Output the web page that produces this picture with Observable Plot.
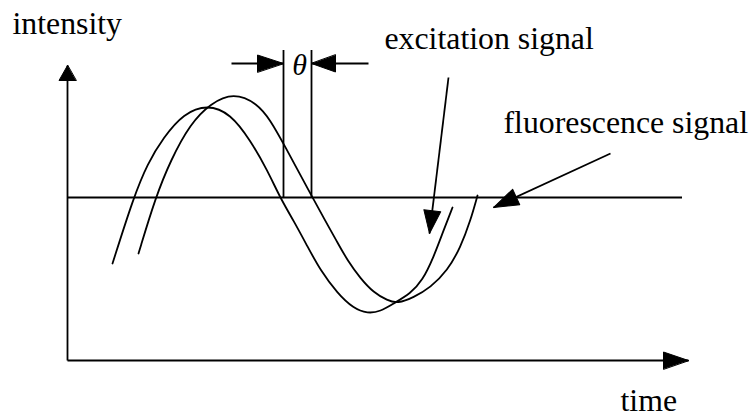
<!DOCTYPE html>
<html>
<head>
<meta charset="utf-8">
<script src="https://cdn.jsdelivr.net/npm/d3@7"></script>
<script src="https://cdn.jsdelivr.net/npm/@observablehq/plot@0.6"></script>
<style>
  html, body { margin: 0; padding: 0; background: #fff; }
  #chart svg { display: block; }
</style>
</head>
<body>
<div id="chart"></div>
<script>
// Excitation signal (leading wave): time, intensity
const excitationTime = [45, 66, 80, 96, 116, 140, 163, 183, 200, 213, 226, 240, 253, 270, 286, 300, 313, 326, 343, 355, 366, 376, 385];
const excitationIntensity = [97, 163, 197, 223, 247, 256, 247, 220, 190, 162, 140, 114, 90, 67, 52, 47, 49, 57, 67, 80, 103, 130, 153];

// Fluorescence signal (lagging wave)
const fluorescenceTime = [71, 88, 103, 123, 143, 166, 190, 203, 216, 245, 256, 270, 280, 293, 306, 320, 330, 346, 363, 380, 393, 403, 410];
const fluorescenceIntensity = [107, 163, 200, 237, 257, 268, 257, 240, 217, 163, 143, 118, 100, 82, 68, 60, 57, 63, 73, 90, 113, 140, 165];

// Reference (mean) level and phase-shift markers
const baselineLevel = 163;
const baselineEnd = 615;
const phaseMarkers = [216, 244];
const phaseMarkerTop = 310;

// Arrows: axes, phase-shift pointers, label pointers
const arrowName = ["intensity axis", "time axis", "theta left", "theta right", "excitation pointer", "fluorescence pointer"];
const arrowX1 = [0, 0, 164, 301, 381, 543];
const arrowY1 = [0, 0, 297, 297, 283, 207];
const arrowX2 = [0, 621, 216, 244, 362, 426];
const arrowY2 = [295, 0, 297, 297, 127, 153];
const arrowHeadLength = [15, 25, 26, 24, 23, 25];

// Text labels
const labelText = ["intensity", "time", "excitation signal", "fluorescence signal"];
const labelX = [-55, 553, 317, 436];
const labelY = [327, -50, 312, 228];
const thetaText = "θ";
const thetaX = 232;
const thetaY = 295;

const excitation = excitationTime.map((t, i) => ({t, v: excitationIntensity[i]}));
const fluorescence = fluorescenceTime.map((t, i) => ({t, v: fluorescenceIntensity[i]}));
const arrows = arrowName.map((name, i) => ({
  name, x1: arrowX1[i], y1: arrowY1[i], x2: arrowX2[i], y2: arrowY2[i],
  len: arrowHeadLength[i],
  angle: Math.atan2(arrowX2[i] - arrowX1[i], arrowY2[i] - arrowY1[i]) * 180 / Math.PI
}));
const labels = labelText.map((text, i) => ({text, x: labelX[i], y: labelY[i]}));

const triangle = {
  draw(context, l, r) {
    context.moveTo(0, -l);
    context.lineTo(-r, 0);
    context.lineTo(r, 0);
    context.closePath();
  }
};

const font = "'Liberation Serif', 'Times New Roman', serif";

const chart = Plot.plot({
  width: 750,
  height: 416,
  marginTop: 0, marginRight: 0, marginBottom: 0, marginLeft: 0,
  x: {domain: [-67, 683], range: [0, 750], axis: null},
  y: {domain: [-56, 360], range: [416, 0], axis: null},
  length: {type: "identity"},
  style: {background: "#fff", color: "#000"},
  marks: [
    Plot.ruleY([baselineLevel], {x1: 0, x2: baselineEnd, stroke: "#000", strokeWidth: 1.8}),
    Plot.ruleX(phaseMarkers, {y1: baselineLevel, y2: phaseMarkerTop, stroke: "#000", strokeWidth: 1.8}),
    Plot.line(excitation, {x: "t", y: "v", curve: "basis", stroke: "#000", strokeWidth: 1.8}),
    Plot.line(fluorescence, {x: "t", y: "v", curve: "basis", stroke: "#000", strokeWidth: 1.8}),
    Plot.link(arrows, {x1: "x1", y1: "y1", x2: "x2", y2: "y2", stroke: "#000", strokeWidth: 1.8}),
    Plot.vector(arrows, {x: "x2", y: "y2", length: "len", rotate: "angle", anchor: "end",
      shape: triangle, r: 8.5, fill: "#000", stroke: "#000", strokeWidth: 1}),
    Plot.text(labels, {x: "x", y: "y", text: "text", textAnchor: "start", lineAnchor: "bottom",
      fontSize: 31.8, fontFamily: font, fill: "#000"}),
    Plot.text([thetaText], {x: thetaX, y: thetaY, text: d => d, textAnchor: "middle", lineAnchor: "middle",
      fontSize: 30, fontFamily: font, fontStyle: "italic", fill: "#000"})
  ]
});
document.getElementById("chart").appendChild(chart);
</script>
</body>
</html>
